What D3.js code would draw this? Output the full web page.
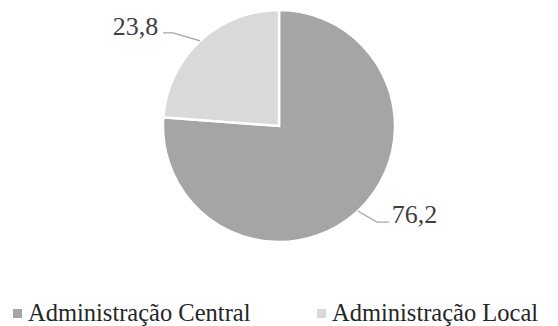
<!DOCTYPE html>
<html>
<head>
<meta charset="utf-8">
<script src="https://cdn.jsdelivr.net/npm/d3@7"></script>
<style>
  html, body { margin: 0; padding: 0; background: #fff; }
  svg { display: block; }
</style>
</head>
<body>
<svg id="chart" width="558" height="326"></svg>
<script>
// Share of public administration (percent)
const categories = ["Administração Central", "Administração Local"];
const values = [76.2, 23.8];
const valueLabels = ["76,2", "23,8"];
const colors = ["#a5a5a5", "#d9d9d9"];

const svg = d3.select("#chart");
const cx = 279, cy = 126, radius = 116;
const fontFamily = "'Liberation Serif', 'Times New Roman', serif";

const pie = d3.pie().sort(null).value(d => d.value)
  .startAngle(0).endAngle(2 * Math.PI);
const arcs = pie(categories.map((c, i) => ({ category: c, value: values[i], label: valueLabels[i], color: colors[i] })));

const arc = d3.arc().innerRadius(0).outerRadius(radius);

const g = svg.append("g").attr("transform", `translate(${cx},${cy})`);

g.selectAll("path.slice")
  .data(arcs)
  .join("path")
  .attr("class", "slice")
  .attr("d", arc)
  .attr("fill", d => d.data.color)
  .attr("stroke", "#ffffff")
  .attr("stroke-width", 2.5)
  .attr("stroke-linejoin", "miter");

// leader lines and value labels
const leaderStyle = [
  { elbow: [19, 11], run: 12, anchor: "start", dx: 3, dy: 1 },   // right side
  { elbow: [-27, -8], run: -10, anchor: "end", dx: -5, dy: 2 }    // left side
];

arcs.forEach((d, i) => {
  const mid = (d.startAngle + d.endAngle) / 2;
  const ex = radius * Math.sin(mid);
  const ey = -radius * Math.cos(mid);
  const s = leaderStyle[i];
  const bx = ex + s.elbow[0], by = ey + s.elbow[1];
  const tx = bx + s.run;
  g.append("polyline")
    .attr("points", [[ex, ey], [bx, by], [tx, by]].map(p => p.join(",")).join(" "))
    .attr("fill", "none")
    .attr("stroke", "#a6a6a6")
    .attr("stroke-width", 1.3);
  g.append("text")
    .attr("x", tx + s.dx)
    .attr("y", by + s.dy)
    .attr("text-anchor", s.anchor)
    .attr("font-family", fontFamily)
    .attr("font-size", 26)
    .attr("fill", "#404040")
    .text(d.data.label);
});

// legend
const legendX = [13, 317];
const legend = svg.append("g");
categories.forEach((c, i) => {
  legend.append("rect")
    .attr("x", legendX[i])
    .attr("y", 309)
    .attr("width", 9)
    .attr("height", 9)
    .attr("fill", colors[i]);
  legend.append("text")
    .attr("x", legendX[i] + 15)
    .attr("y", 320.5)
    .attr("font-family", fontFamily)
    .attr("font-size", 24.5)
    .attr("fill", "#262626")
    .text(c);
});
</script>
</body>
</html>
